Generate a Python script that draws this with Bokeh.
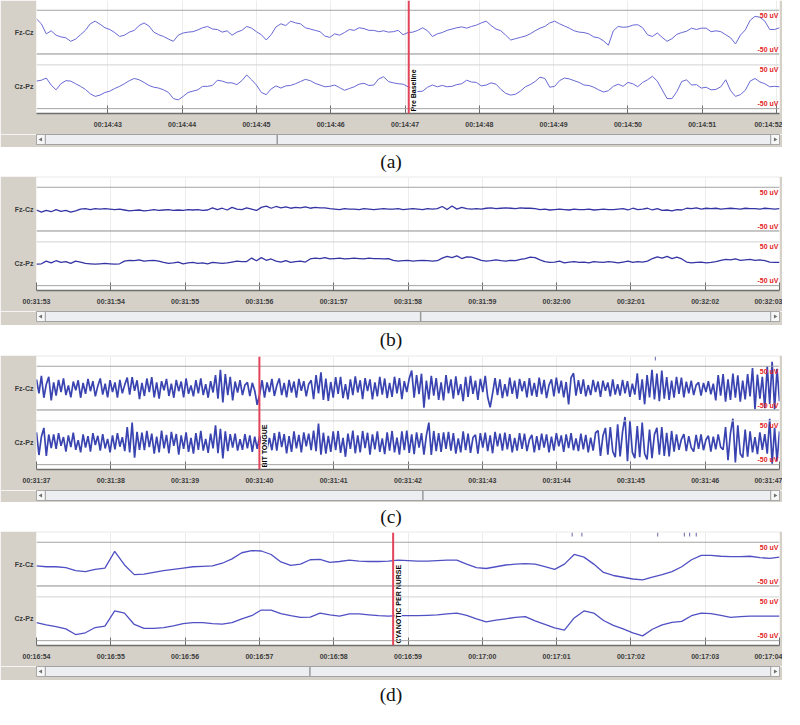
import numpy as np
from bokeh.plotting import figure
from bokeh.models import Range1d, FixedTicker, Span, Div
from bokeh.layouts import column
from bokeh.embed import file_html
from bokeh.resources import INLINE
from bokeh.core.properties import value

# ---------------- data (uV, relative to each channel baseline) ----------------
A_TICKS = ["00:14:43", "00:14:44", "00:14:45", "00:14:46", "00:14:47",
           "00:14:48", "00:14:49", "00:14:50", "00:14:51", "00:14:52"]
A_START, A_END = 882.04, 892.04
A_FZ = [30, 19, -4, 3, -7, -11, -13, -21, -16, -6,
        4, 19, 25, 18, 10, 6, -1, -10, -7, 0,
        4, 15, 21, 14, 0, -6, -10, -16, -21, -7,
        -2, 0, 1, 5, 10, 13, 7, 6, 0, 3,
        -7, 0, 4, 13, 9, 1, -6, -18, -6, 12,
        19, 15, 25, 21, 19, 10, 7, 4, 1, -9,
        -12, -4, -7, -1, 6, 4, 10, 8, 4, 4,
        1, 3, 0, 1, 4, -6, -1, 0, 4, 10,
        3, -10, -4, -1, 4, 7, 10, 12, 9, 13,
        16, 21, 25, 15, 7, 3, -7, -18, -15, -12,
        -9, -4, 3, 9, 13, 21, 25, 19, 14, 9,
        3, 0, -1, -4, -11, -13, -20, -30, 3, 13,
        11, 12, 16, 17, 10, -6, -10, -2, -12, -21,
        -15, -5, -1, 2, 9, 6, 9, 9, 1, 3,
        1, -6, -13, -27, -7, 5, 27, 36, 34, 25,
        6, 6, 10]
A_CZ = [13, 15, 20, 4, -7, 7, 14, 13, 7, 1,
        -6, -16, -22, -19, -13, -10, -4, 1, 7, 14,
        19, 16, 10, 3, -1, -3, -7, -13, -27, -30,
        -22, -13, -10, -7, 1, 1, 3, 15, 13, 9,
        9, 5, 14, 27, 16, 4, -13, -18, -5, 2,
        -3, 2, 3, 7, 12, 17, 14, 8, 4, 0,
        1, 4, -2, -8, -4, 0, 6, 8, 3, 4,
        18, 23, 12, 9, 7, 6, 0, -4, -11, -10,
        -1, 4, 0, 3, 0, 1, 5, 7, 15, 11,
        10, 2, 4, 9, 6, -6, -15, -19, -17, -10,
        0, 5, 12, 22, 19, -1, 1, 14, 20, 18,
        14, 10, 4, 3, -1, -7, -12, -9, 1, 6,
        1, 10, 7, 0, 10, 16, 24, 13, -7, -27,
        -27, -11, 12, 16, 4, 5, -3, -1, -7, -6,
        0, 16, -9, -22, -18, -8, 13, 19, 11, 7,
        0, 1, 0]
A_MARK, A_MARK_TEXT = 887.05, "Pre Baseline"

B_TICKS = ["00:31:53", "00:31:54", "00:31:55", "00:31:56", "00:31:57", "00:31:58",
           "00:31:59", "00:32:00", "00:32:01", "00:32:02", "00:32:03"]
B_START, B_END = 1913.0, 1923.0
B_FZ = [-2, -7, -3, -6, -1, -5, -3, -7, -4,
        0, 1, -1, 1, 0, 1, 0, -1, 0,
        -2, -4, -3, -2, -4, -3,
        -1, -3, -2, -1, -3, -2, -3, -1, -2, -1, -3, -2,
        3, -1, 2, -2, 4, 0, -1, 3, 0,
        -3,
        4, 7, 2, 6, 3, 5, 2, 4, 3, 5, 2, 4, 3, 3,
        1, 0, -1, 1, 0, 0, -1, 1, 0, -1, 0, 1, 0,
        0, 1, -1, 0, 1, 0, -1, 1, 0, 1,
        6, -1, 7, 0, 4,
        1, 0, 1, 0,
        2, 3, 1, 2, 3, 2, 1, 3, 2, 2, 1,
        -1, 0, -2, -1, 0, -1, -2, 0, -1, -1, 0, -2, -1, 0, -1, -1, 0,
        1, -2, 2, -1, 0, 2, -2, 1, -3, -2, -4, -1, -2,
        2, 1, 3, 0, 2, 1, 2, 0, 1, 2, 1, 0, 2, 1, 1, 0, 2, 1, 0, 1]
B_CZ = [-1, 0,
        6, 2, 7, 3, 5, 1, 6, 4,
        1, 0, -1, 0, 1, 0, -1, 0,
        6, 8, 7, 9, 6, 7, 8, 6,
        3, 1, 2, 4, 0, 2, 3, 1, 2, 0, 3, 2, 1, 2,
        4, 6, 5, 5,
        13, 7, 14, 8, 11,
        6, 4, 7, 3, 5, 6, 4,
        11, 13, 12, 14, 11, 12, 13, 11, 12, 13, 12, 11, 13, 12, 12, 11, 12,
        8, 6, 7, 8, 6, 7, 8, 7, 6, 7,
        13, 17, 14, 18, 12, 16, 15, 12,
        8, 6, 7, 9, 7, 6, 8, 7, 10, 12,
        15, 14, 9,
        5, 3, 4, 6, 2, 4, 5, 3, 4, 2, 5, 4, 3, 5, 4, 2, 4, 6, 3, 5, 4, 6,
        12, 16, 13, 17, 12, 15, 11,
        4, 2, 3, 4, 2, 3, 5,
        8, 10, 9, 11, 8, 9, 10, 8, 9, 7,
        4, 3, 3]

C_TICKS = ["00:31:37", "00:31:38", "00:31:39", "00:31:40", "00:31:41", "00:31:42",
           "00:31:43", "00:31:44", "00:31:45", "00:31:46", "00:31:47"]
C_START, C_END = 1897.0, 1907.0
C_FZ = [20, -12, 28, -22, 9, 26, -28, 13, -17,
        19, -9, 22, -16, 6, -21, 15, -5, 18, -22, 12, -13, 21, -7, 16, -19, 5, 22, -15, 10,
        -21, 18, -9, 13, -22, 19, -12, 8,
        24, -15, 25, -6, 18, -25, 12, -18, 22, -9, 25, -21, 13, -24, 16, -5,
        21, -18, 10, -22, 19, -7, 15, -21, 22, -13, 6, -19, 18, -12, 22, -16, 9, -22, 16, -10,
        30, -24, 42, -33, 32, -16, 26, -28,
        15, -10, 18, -16, 7, 13, -18, 12, -6,
        -38, -14,
        18, -22, 13, -9, 21, -18, 6, 22, -16, 12, -21, 19, -10, 15, -22, 21, -6, 16, -19, 9, 18,
        -25, 30, -12, 36, -27, 22, -29, 14,
        -22, 25, -13, 26, -23, 9, -26, 20, -16, 27, -10, 18, -25, 23, -7, 20, -26, 13, -19, 26,
        -15, 22, -23, 12,
        -20, 26, -12, 23, -25, 16, -9, 22,
        40, -22, 30, -14, 33, -45, 17, -26,
        28, -17, 23, -27, 13, -28, 30, -12, 20, -24, 27, -16, 9, -30, 26, -20, 28, -13, 17, -27,
        21, -9, 28, -21,
        -44, -12,
        23, -16, 20, -23, 9, -19, 24, -13, 17, -24, 21, -7, 16, -21, 23, -17, 12, -20, 24, -14,
        19, -23, 7, 20, -19, 24, -12, 17, -21, 14,
        -37, 24, 34, -17,
        18, -13, 20, -19, 7, -16, 19, -9, 15, -20, 17, -6, 13, -19, 20, -15, 9, -17, 19, -12,
        16, -20, 10, -15,
        34, -27, 20, -37, 30, -21, 42, -26, 33, -30, 40, -24,
        25, -27, 17, -22, 26, -13, 24, -21,
        15, -12, 17, -16, 7, 13, -17, 12, -9, 16, -14, 10,
        -28, 30, -17, 32, -31, 20, -27, 33, -22, 29, -31, 17, -26, 32, -19, 46, -48, 31, -24, 26,
        -46, 50, -36, 60, -48, 44, -30]
C_CZ = [24, -28, 14, 34, -30, 19, -12,
        19, -14, 22, -7, 13, -20, 17, -10, 23, -16, 6, -22, 19, -11, 15, -20, 22, -5, 16, -18,
        20, -13, 9, -22, 17, -15, 22, -9, 13, -19,
        36, -22, 46, -34, 25, -16,
        23, -17, 27, -10, 21, -25, 14, -22, 28, -13, 18, -24, 25, -7, 20, -27, 17, -14, 24, -21,
        11, -25, 22, -16, 27, -18, 9, -23, 21, -13,
        40, -24, 32, -36, 26, -19,
        20, -11, 21, -18, 8, -16, 20, -13, 17, -21, 14,
        -14, 16, -7, 17, -13, 11, -17,
        22, -18, 25, -10, 20, -24, 15, -21, 26, -13, 18, -22, 24, -8, 21, -17,
        28, -19, 44, -27, 23, -25, 16, -21,
        26, -17, 27, -23, 11, -32, 21, -14, 28, -24, 17, -22, 27, -12, 23, -27, 19, -15, 26, -21,
        10, -26, 24, -18,
        27, -22, 12, -27, 26, -17, 28, -23, 19, -26, 24, -11, 22, -27, 17, 46, -28, 27, -19, 22,
        -21, 24, -14, 25, -18, 22, -25, 10, -22, 26, -17, 21, -23, 12, 18, -25, 22, -11, 23, -19,
        17, -24, 25, -8, 21, -18, 23, -15,
        20, -22, 11, -18, 22, -14, 21, -19, 7, 18, -22, 15, -17, 21, -11, 19, -22, 14, -18, 22,
        -8, 17, -21, 19, -12, 22, -17, 10, -19, 21, -15, 18, -22, 12, -18, 23,
        28, -30, 16, 34, -27, 36, -20, -33, 42, -31, 25, 59, -42, 50, -22, -35, 38, -33, 46, -25,
        -38, 30, -35, 19, 34, -27, 36, -30, 23, -31, 27, -20,
        19, -16, 8, 20, -19, 15, -11, -20, 18, -14, 19, -17, 7, 16, -20, 14, -15, 19, -10, -16,
        36, -40, 22, 55, -45, 40, -25, -34, 30, -32,
        26, -22, 13, -26, 24, -16, 20, -25,
        55, -48, 34, -42, 26]
C_MARK, C_MARK_TEXT = 1900.0, "BIT TONGUE"
C_EVENTS = [1905.33]

D_TICKS = ["00:16:54", "00:16:55", "00:16:56", "00:16:57", "00:16:58", "00:16:59",
           "00:17:00", "00:17:01", "00:17:02", "00:17:03", "00:17:04"]
D_START, D_END = 1014.0, 1024.0
D_FZ = [-4, -6, -6, -8, -15, -17, -12, -9, 29, -2,
        -24, -23, -19, -15, -12, -9, -6, -5, -4, 2,
        12, 26, 31, 30, 22, 5, -3, 0, 10, 11,
        4, 6, 9, 7, 6, 6, 7,
        9, 8, 7, 7, 8, 9, 9, 0, -8, -10,
        -6, -2, 0, 1, 0, -6, -12, 0, 22, 16,
        0, -19, -26, -30, -34, -36, -30, -24, -17, -6,
        10, 20, 20, 18, 17, 17, 18, 15, 13, 16]
D_CZ = [-9, -14, -18, -23, -36, -32, -20, -17, 18, 13,
        -13, -22, -22, -20, -16, -11, -9, -9, -11, -12,
        -9, 0, 7, 20, 20, 12, 7, 3, 4, 13,
        9, 6, 11, 11, 9, 7, 6,
        7, 7, 7, 8, 9, 11, 13, 8, 0, -7,
        -3, 0, 3, 5, -5, -13, -21, -26, 2, 18,
        13, -4, -15, -23, -32, -39, -24, -14, -8, -6,
        7, 13, 12, 8, 3, 5, 6, 6, 6, 6]
D_MARK, D_MARK_TEXT = 1018.80, "CYANOTIC PER NURSE"
D_EVENTS = [1021.21, 1021.34, 1022.36, 1022.72, 1022.79, 1022.88]

CHANNELS = ["Fz-Cz", "Cz-Pz"]
SCALE_LABELS = ["50 uV", "-50 uV", "50 uV", "-50 uV"]
CAPTIONS = ["(a)", "(b)", "(c)", "(d)"]
THUMBS = [0.324, 0.517, 0.52, 0.368]

# ---------------- layout / style ----------------
S = 0.978
def px(v):
    return int(round(v * S))

W = px(800)
GRAY = "#d5d1c9"
FZ_OFF, CZ_OFF = 125, 0
Y0, Y1 = -61.1, 197.3
FONT = "Liberation Sans"


def secs(lbl):
    h, m, s = lbl.split(":")
    return int(h) * 3600 + int(m) * 60 + int(s)


def panel(ticks, x0, x1, fz, cz, color, lw, top_pad, mark=None, mark_text=None, events=None):
    p = figure(width=W, height=px(top_pad + 137), x_range=Range1d(x0, x1),
               y_range=Range1d(Y0, Y1), output_backend="svg", toolbar_location=None,
               min_border_left=px(37), min_border_right=px(3),
               min_border_top=px(top_pad), min_border_bottom=px(21),
               border_fill_color=GRAY, background_fill_color="white",
               outline_line_color=None, title=None)
    tpos = [secs(t) for t in ticks]
    xa = p.xaxis[0]
    xa.ticker = FixedTicker(ticks=tpos, minor_ticks=[])
    xa.major_label_overrides = {t: l for t, l in zip(tpos, ticks)}
    xa.major_tick_in = px(8)
    xa.major_tick_out = 0
    xa.minor_tick_in = 0
    xa.minor_tick_out = 0
    xa.axis_line_color = "#6e6e6e"
    xa.axis_line_width = 1.5
    xa.major_tick_line_color = "#6e6e6e"
    xa.major_label_text_font = FONT
    xa.major_label_text_font_size = "7px"
    xa.major_label_text_font_style = "bold"
    xa.major_label_text_color = "#3c3c3c"
    xa.major_label_standoff = 7
    ya = p.yaxis[0]
    ya.ticker = FixedTicker(ticks=[FZ_OFF, CZ_OFF], minor_ticks=[])
    ya.major_label_overrides = {FZ_OFF: CHANNELS[0], CZ_OFF: CHANNELS[1]}
    ya.axis_line_color = None
    ya.major_tick_in = 0
    ya.major_tick_out = 0
    ya.minor_tick_in = 0
    ya.minor_tick_out = 0
    ya.major_label_text_font = FONT
    ya.major_label_text_font_size = "7px"
    ya.major_label_text_font_style = "bold"
    ya.major_label_text_color = "#3a3a3a"
    ya.major_label_standoff = 3
    p.xgrid.ticker = FixedTicker(ticks=tpos, minor_ticks=[])
    p.xgrid.grid_line_color = "#ececec"
    p.ygrid.grid_line_color = None
    for loc, col in [(FZ_OFF + 50, "#a4a4a4"), (FZ_OFF - 50, "#8c8c8c"),
                     (CZ_OFF + 50, "#d2d2d2"), (CZ_OFF - 50, "#a4a4a4")]:
        p.add_layout(Span(location=loc, dimension="width", line_color=col, line_width=1))

    t_fz = np.linspace(x0, x1, len(fz))
    t_cz = np.linspace(x0, x1, len(cz))
    p.line(t_fz, np.array(fz) + FZ_OFF, line_color=color, line_width=lw)
    p.line(t_cz, np.array(cz) + CZ_OFF, line_color=color, line_width=lw)

    if events:
        p.segment(x0=events, y0=[Y1] * len(events), x1=events, y1=[Y1 - 9] * len(events),
                  line_color="#7d7db8", line_width=1.2)

    p.text(x=[x1] * 4, y=[FZ_OFF + 39, FZ_OFF - 39, CZ_OFF + 39, CZ_OFF - 39],
           text=SCALE_LABELS, text_align="right", text_baseline="middle",
           text_color="#e3241f", text_font=value(FONT), text_font_size="7px",
           text_font_style="bold", x_offset=-1)

    if mark is not None:
        p.add_layout(Span(location=mark, dimension="height", line_color="#e2445c",
                          line_width=2))
        p.text(x=[mark], y=[Y0], text=[mark_text], angle=np.pi / 2,
               text_align="left", text_baseline="top", x_offset=1.5, y_offset=-2,
               text_color="black", text_font=value(FONT), text_font_size="7px",
               text_font_style="bold", background_fill_color="white")
    return p


def scrollbar(h, thumb):
    s = figure(width=W, height=px(h), x_range=Range1d(0, 1), y_range=Range1d(0, 1),
               output_backend="svg", toolbar_location=None, title=None,
               min_border_left=px(37), min_border_right=px(3), min_border_top=0,
               min_border_bottom=px(h) - px(10), border_fill_color=GRAY,
               background_fill_color="#eceef1", outline_line_color="#a2a2a2")
    s.axis.visible = False
    s.grid.visible = False
    bw = 9 / 760
    s.quad(left=[0, 1 - bw], right=[bw, 1], bottom=[0, 0], top=[1, 1],
           fill_color="#f7f7f7", line_color="#9a9a9a", line_width=1)
    s.scatter(x=[bw / 2, 1 - bw / 2], y=[0.5, 0.5], marker="triangle",
              angle=[np.pi / 2, -np.pi / 2], size=4, fill_color="#707070",
              line_color=None)
    s.segment(x0=[thumb], y0=[0], x1=[thumb], y1=[1], line_color="#9a9a9a", line_width=1.5)
    return s


def caption(txt, h):
    return Div(text=txt, width=W, height=px(h), margin=(0, 0, 0, 0),
               styles={"font-family": "'Liberation Serif', 'Times New Roman', serif",
                       "font-size": "19.5px", "text-align": "center",
                       "line-height": f"{px(h)}px", "width": f"{W}px", "color": "#111"})


pa = panel(A_TICKS, A_START, A_END, A_FZ, A_CZ, "#6868d4", 1.0, 0,
           A_MARK, A_MARK_TEXT)
pb = panel(B_TICKS, B_START, B_END, B_FZ, B_CZ, "#3434a4", 1.3, 1)
pc = panel(C_TICKS, C_START, C_END, C_FZ, C_CZ, "#3a44b0", 1.7, 1,
           C_MARK, C_MARK_TEXT, C_EVENTS)
pd = panel(D_TICKS, D_START, D_END, D_FZ, D_CZ, "#5050c4", 1.3, 1,
           D_MARK, D_MARK_TEXT, D_EVENTS)

layout = column(
    pa, scrollbar(13, THUMBS[0]), caption(CAPTIONS[0], 30),
    pb, scrollbar(14, THUMBS[1]), caption(CAPTIONS[1], 31),
    pc, scrollbar(12, THUMBS[2]), caption(CAPTIONS[2], 30),
    pd, scrollbar(14, THUMBS[3]), caption(CAPTIONS[3], 30),
    spacing=0,
)

open("out.html", "w").write(file_html(layout, INLINE))
